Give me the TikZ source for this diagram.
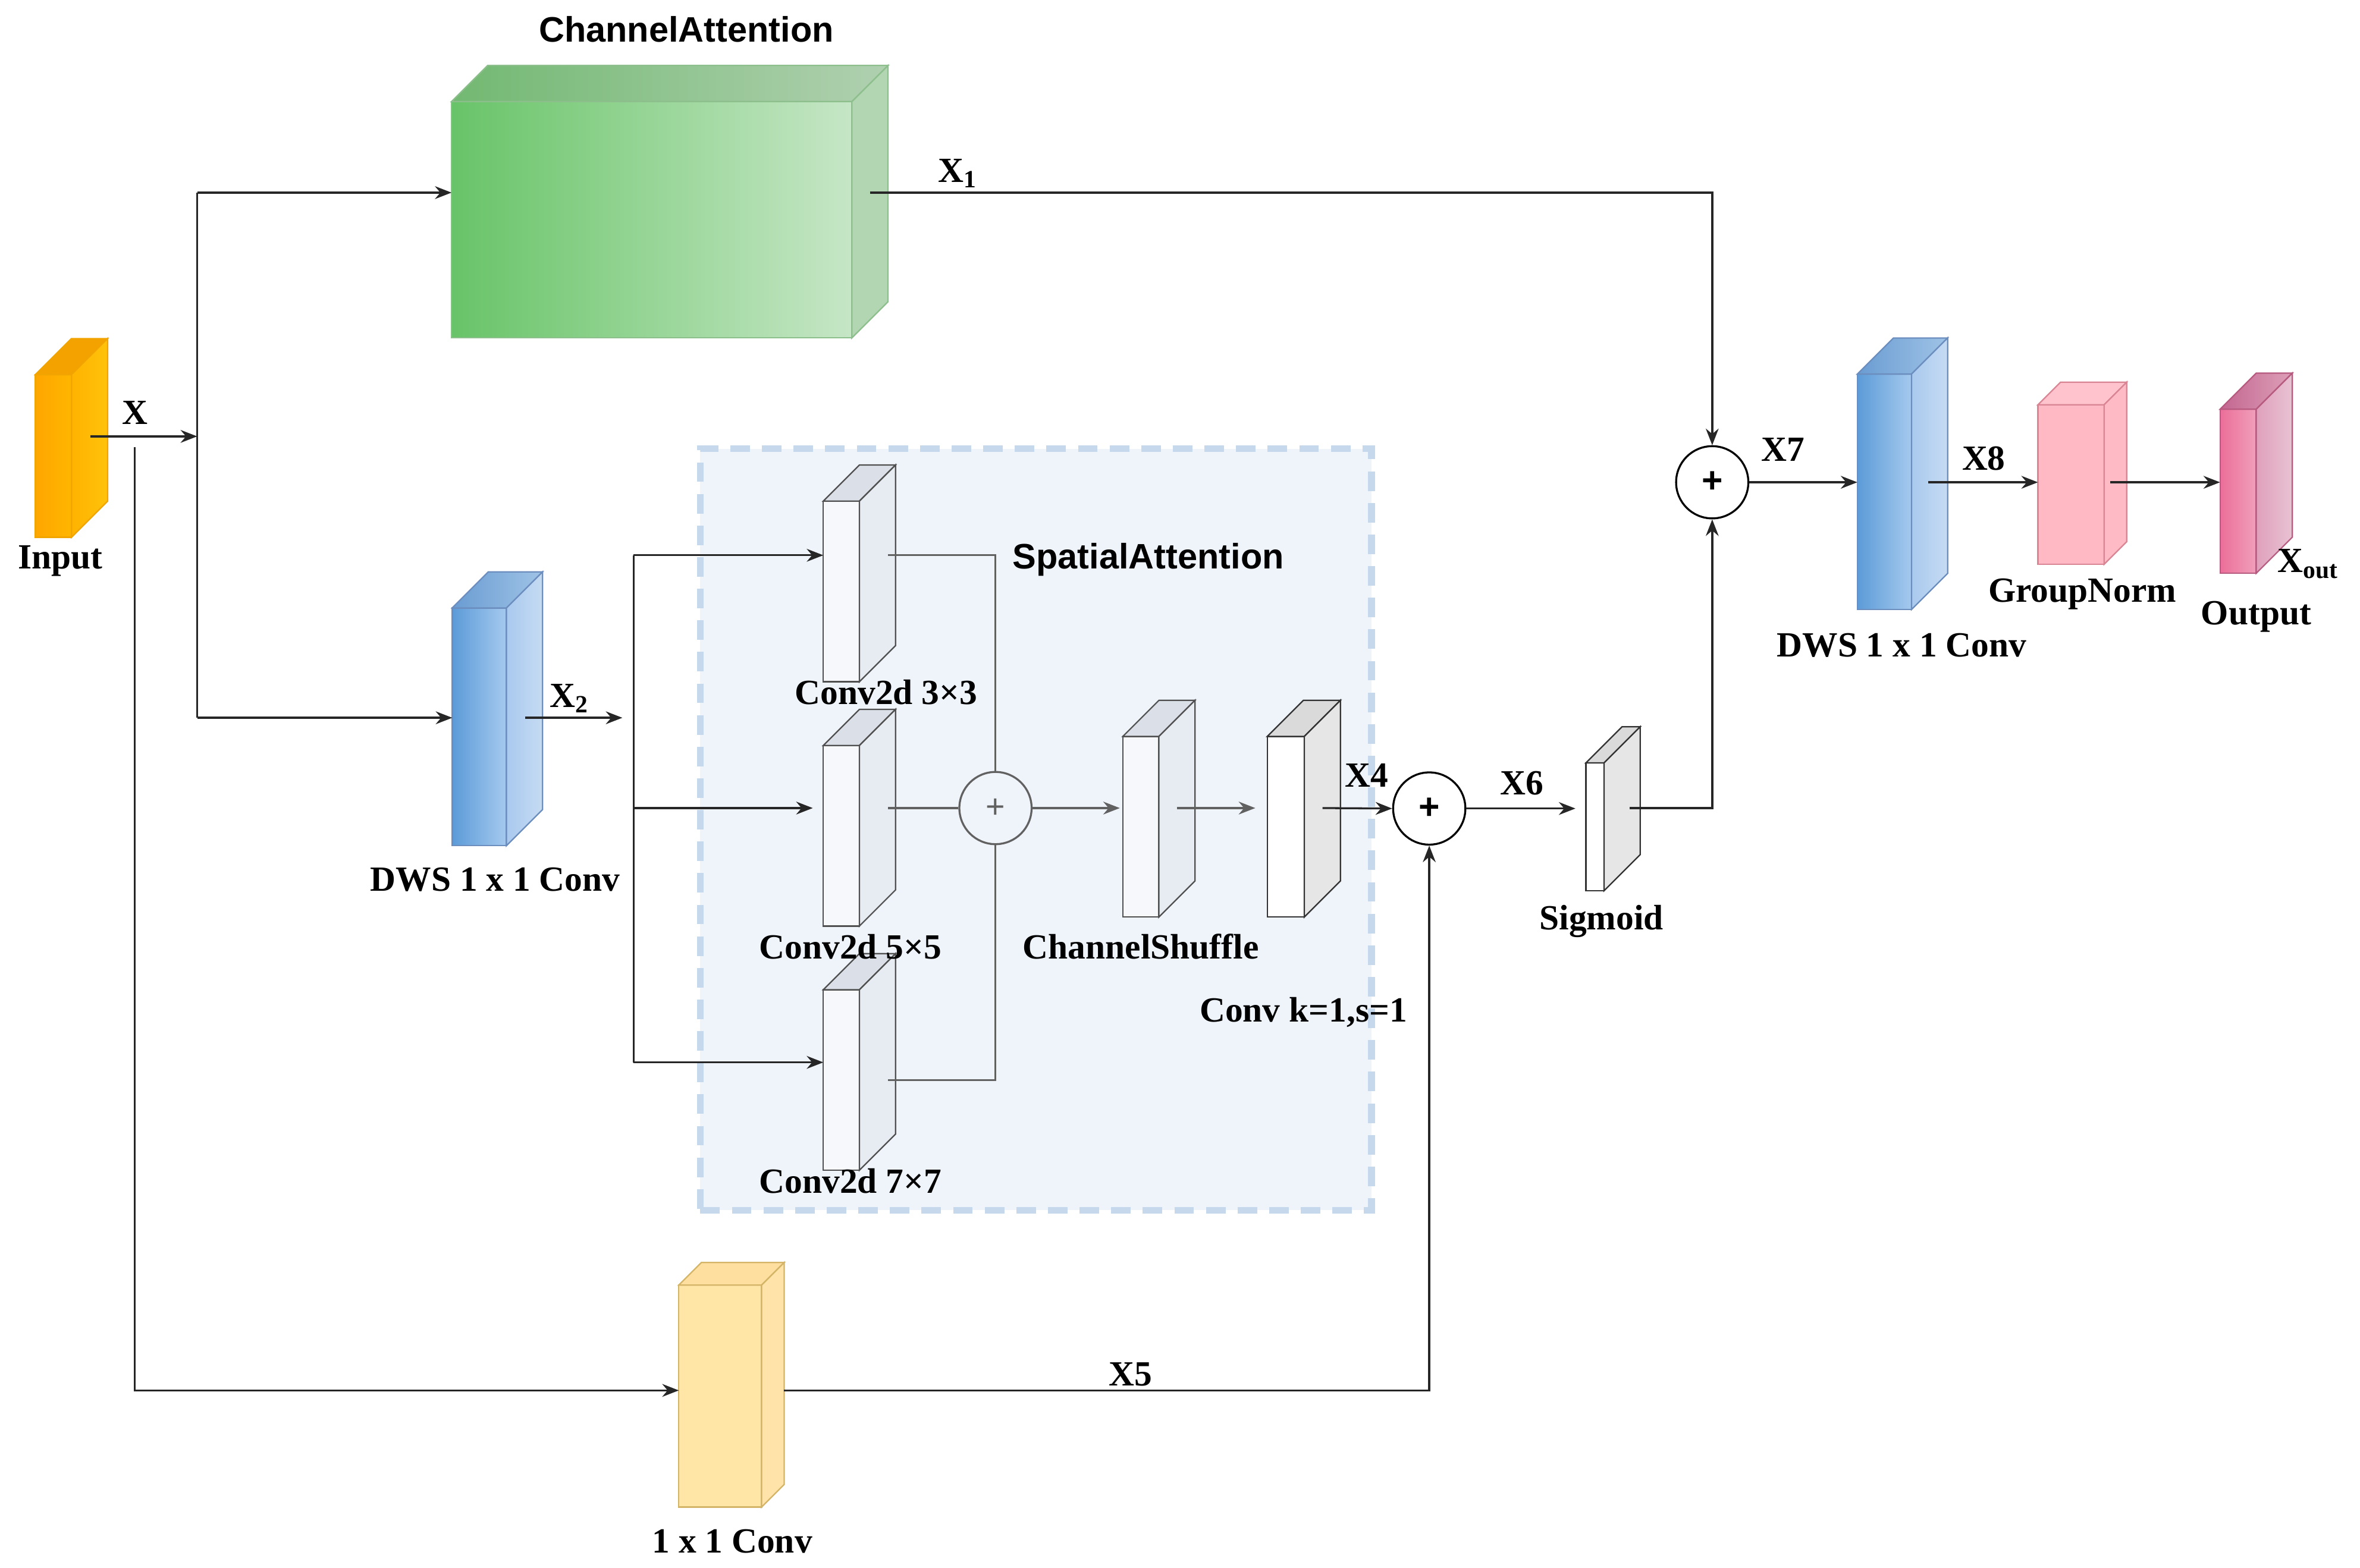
\documentclass[tikz,border=0pt]{standalone}
\usepackage{fontspec}
\setmainfont{Liberation Serif}
\newfontfamily\arialf{Liberation Sans}
\usetikzlibrary{arrows.meta,calc}

\definecolor{inpA}{HTML}{FFA600}
\definecolor{inpB}{HTML}{FFB600}
\definecolor{inpT}{HTML}{F3A200}
\definecolor{inpS1}{HTML}{FFB300}
\definecolor{inpS2}{HTML}{FFC20A}
\definecolor{inpE}{HTML}{F2A400}
\definecolor{caA}{HTML}{68C468}
\definecolor{caB}{HTML}{C6E6C6}
\definecolor{caT1}{HTML}{72B872}
\definecolor{caT2}{HTML}{B0D0B0}
\definecolor{caS}{HTML}{B2D6B2}
\definecolor{caE}{HTML}{8DBF8D}
\definecolor{blA}{HTML}{5C9BD8}
\definecolor{blB}{HTML}{A5C9EE}
\definecolor{blT1}{HTML}{6A9CD2}
\definecolor{blT2}{HTML}{9FC3E6}
\definecolor{blS1}{HTML}{A9C9EE}
\definecolor{blS2}{HTML}{C6DBF3}
\definecolor{blE}{HTML}{6C8EBF}
\definecolor{cvF}{HTML}{F6F8FB}
\definecolor{cvT}{HTML}{DADFE8}
\definecolor{cvS}{HTML}{E7EBF2}
\definecolor{cvE}{HTML}{505050}
\definecolor{wkT}{HTML}{DADADA}
\definecolor{wkS}{HTML}{E6E6E6}
\definecolor{wkE}{HTML}{333333}
\definecolor{gnF}{HTML}{FFB9C5}
\definecolor{gnT}{HTML}{FFC3CD}
\definecolor{gnS}{HTML}{FFBBC5}
\definecolor{gnE}{HTML}{D98594}
\definecolor{otA}{HTML}{EB6E99}
\definecolor{otB}{HTML}{F09FBA}
\definecolor{otT1}{HTML}{C36690}
\definecolor{otT2}{HTML}{DDA0B8}
\definecolor{otS1}{HTML}{DFA0BC}
\definecolor{otS2}{HTML}{E8C2D2}
\definecolor{otE}{HTML}{B65A80}
\definecolor{ylF}{HTML}{FFE5A6}
\definecolor{ylT}{HTML}{FFDFA0}
\definecolor{ylS}{HTML}{FFE3A8}
\definecolor{ylE}{HTML}{D4B466}
\definecolor{saF}{HTML}{EFF3FA}
\definecolor{saE}{HTML}{C6D8EB}

\tikzset{
  lab/.style={font=\fontsize{23.5}{27}\selectfont\bfseries, inner sep=0pt, anchor=base},
  ttl/.style={font=\arialf\fontsize{23.5}{27}\selectfont\bfseries, inner sep=0pt, anchor=base},
  ln/.style={line width=1.3pt, draw=black!85},
  arr/.style={ln, -{Stealth[length=11pt,width=8.5pt]}},
  gln/.style={line width=1.3pt, draw=black!62},
  garr/.style={gln, -{Stealth[length=11pt,width=8.5pt]}},
  face/.style={inner sep=0pt, outer sep=0pt, line width=0.9pt},
  inp front/.style={face, draw=inpE, left color=inpA, right color=inpB},
  inp top/.style={face, draw=inpE, fill=inpT},
  inp side/.style={face, draw=inpE, left color=inpS1, right color=inpS2},
  ca front/.style={face, draw=caE, left color=caA, right color=caB},
  ca top/.style={face, draw=caE, left color=caT1, right color=caT2},
  ca side/.style={face, draw=caE, fill=caS},
  bl front/.style={face, draw=blE, left color=blA, right color=blB},
  bl top/.style={face, draw=blE, left color=blT1, right color=blT2},
  bl side/.style={face, draw=blE, left color=blS1, right color=blS2},
  cv front/.style={face, draw=cvE, fill=cvF},
  cv top/.style={face, draw=cvE, fill=cvT},
  cv side/.style={face, draw=cvE, fill=cvS},
  wk front/.style={face, draw=wkE, fill=white},
  wk top/.style={face, draw=wkE, fill=wkT},
  wk side/.style={face, draw=wkE, fill=wkS},
  gn front/.style={face, draw=gnE, fill=gnF},
  gn top/.style={face, draw=gnE, fill=gnT},
  gn side/.style={face, draw=gnE, fill=gnS},
  ot front/.style={face, draw=otE, left color=otA, right color=otB},
  ot top/.style={face, draw=otE, left color=otT1, right color=otT2},
  ot side/.style={face, draw=otE, left color=otS1, right color=otS2},
  yl front/.style={face, draw=ylE, fill=ylF},
  yl top/.style={face, draw=ylE, fill=ylT},
  yl side/.style={face, draw=ylE, fill=ylS},
  sumnode/.style={circle, draw=black, line width=1.3pt, minimum size=48pt, inner sep=0pt, fill=white},
}

% name, x, y (north west of front face), width, height, depth, kind
\newcommand{\blk}[7]{%
  \node[#7 front, minimum width=#4pt, minimum height=#5pt, anchor=north west] (#1) at (#2,#3) {};
  \path[#7 top] (#1.north west) -- ++(#6,-#6) -- ++(#4,0) -- (#1.north east) -- cycle;
  \path[#7 side] (#1.north east) -- ++(#6,-#6) -- ++(0,#5) -- (#1.south east) -- cycle;
}

\begin{document}
\begin{tikzpicture}[x=1pt,y=-1pt]
\useasboundingbox (0,0) rectangle (1568,1042);
\fill[white] (0,0) rectangle (1568,1042);

% spatial attention region
\node[draw=saE, fill=saF, line width=4.5pt, dash pattern=on 13pt off 8pt,
      minimum width=446pt, minimum height=506pt, inner sep=0pt, anchor=north west] (sa) at (463,296) {};

% blocks
\blk{inp}{23.5}{249}{24}{108}{24}{inp}
\blk{ca}{300}{67.5}{266}{157}{24}{ca}
\blk{dwa}{300.5}{404}{36}{158}{24}{bl}
\blk{cta}{547}{333}{24}{120}{24}{cv}
\blk{ctb}{547}{495.4}{24}{120}{24}{cv}
\blk{ctc}{547}{657.7}{24}{120}{24}{cv}
\blk{cs}{746}{489.4}{24}{120}{24}{cv}
\blk{ck}{842}{489.4}{24.6}{120}{24}{wk}
\blk{sg}{1053.7}{507}{12}{85}{24}{wk}
\blk{dwb}{1234}{248.6}{36}{156.5}{24}{bl}
\blk{gn}{1354}{269}{44}{106}{15}{gn}
\blk{out}{1475}{272}{24}{109}{24}{ot}
\blk{cy}{451}{854}{55}{147.5}{15}{yl}

% summation nodes
\node[sumnode] (p1) at (1137.6,320.5) {};
\node[font=\arialf\fontsize{24}{24}\selectfont\bfseries, inner sep=0pt] (p1t) at (p1) {+};
\node[sumnode, draw=black!62, fill=saF] (ps) at (661.4,537) {};
\node[font=\arialf\fontsize{22}{22}\selectfont, text=black!62, inner sep=0pt] (pst) at (ps) {+};
\node[sumnode] (p2) at (949.6,537.3) {};
\node[font=\arialf\fontsize{24}{24}\selectfont\bfseries, inner sep=0pt] (p2t) at (p2) {+};

% coordinates for free ends
\coordinate (xo) at (60,290);
\coordinate (sp) at (131,290);
\coordinate (st) at (131,128);
\coordinate (sb) at (131,477);
\coordinate (xd) at (89.5,297);
\coordinate (xdb) at (89.5,924);
\coordinate (cyo) at (521,924);
\coordinate (cao) at (578,128);
\coordinate (d1o) at (349,477);
\coordinate (d1e) at (413.5,477);
\coordinate (bt) at (421,369);
\coordinate (bm) at (421,537);
\coordinate (bb) at (421,706);
\coordinate (c3o) at (590,369);
\coordinate (c5o) at (590,537);
\coordinate (c7o) at (590,717.7);
\coordinate (cso) at (782,537);
\coordinate (cko) at (878.7,537);
\coordinate (sgo) at (1082.6,537);
\coordinate (d2o) at (1281,320.5);
\coordinate (gno) at (1402,320.5);

% connectors
\draw[arr] (xo) -- (sp);
\draw[ln] (st) -- (sb);
\draw[arr] (st) -- (ca.west |- st);
\draw[arr] (sb) -- (dwa.west |- sb);
\draw[arr] (xd) -- (xdb) -- (cy.west |- xdb);
\draw[arr] (cyo) -- (p2 |- cyo) -- (p2.south);
\draw[arr] (cao) -- (p1 |- cao) -- (p1.north);
\draw[arr] (d1o) -- (d1e);
\draw[ln] (bt) -- (bb);
\draw[arr] (bt) -- (cta.west |- bt);
\draw[arr, shorten >=7pt] (bm) -- (ctb.west |- bm);
\draw[arr] (bb) -- (ctc.west |- bb);
\draw[gln] (c3o) -- (ps |- c3o) -- (ps.north);
\draw[gln] (c5o) -- (ps.west);
\draw[gln] (c7o) -- (ps |- c7o) -- (ps.south);
\draw[garr, shorten >=2pt] (ps.east) -- (cs.west |- ps.east);
\draw[garr, shorten >=8pt] (cso) -- (ck.west |- cso);
\draw[arr] (cko) -- (p2.west);
\draw[arr, shorten >=7pt] (p2.east) -- (sg.west |- p2.east);
\draw[arr] (sgo) -- (p1 |- sgo) -- (p1.south);
\draw[arr] (p1.east) -- (dwb.west |- p1.east);
\draw[arr] (d2o) -- (gn.west |- d2o);
\draw[arr] (gno) -- (out.west |- gno);

% labels
\node[ttl] (tca) at (456,28) {ChannelAttention};
\node[ttl] (tsa) at (763,378) {SpatialAttention};
\node[lab] (linp) at (40,378) {Input};
\node[lab] (lx) at (89.5,282) {X};
\node[lab, anchor=base west] (lx1) at (623,121) {X\textsubscript{1}};
\node[lab, anchor=base west] (lx2) at (365,470) {X\textsubscript{2}};
\node[lab] (ldwa) at (329,592) {DWS 1 x 1 Conv};
\node[lab] (lc3) at (588.7,468) {Conv2d 3×3};
\node[lab] (lc5) at (565,637) {Conv2d 5×5};
\node[lab] (lc7) at (565,793) {Conv2d 7×7};
\node[lab] (lcs) at (758,637) {ChannelShuffle};
\node[lab] (lck) at (866,679) {Conv k=1,s=1};
\node[lab] (lx4) at (908,523) {X4};
\node[lab] (lx6) at (1011,528) {X6};
\node[lab] (lsg) at (1064,618) {Sigmoid};
\node[lab] (lx7) at (1184.7,306.5) {X7};
\node[lab] (lx8) at (1318,312.5) {X8};
\node[lab] (lgn) at (1383.5,400) {GroupNorm};
\node[lab] (ldwb) at (1263.5,436.5) {DWS 1 x 1 Conv};
\node[lab] (lout) at (1499,415) {Output};
\node[lab, anchor=base west] (lxo) at (1513,380.5) {X\textsubscript{out}};
\node[lab] (lx5) at (751,920.8) {X5};
\node[lab] (lcy) at (486.5,1032) {1 x 1 Conv};
\end{tikzpicture}
\end{document}
